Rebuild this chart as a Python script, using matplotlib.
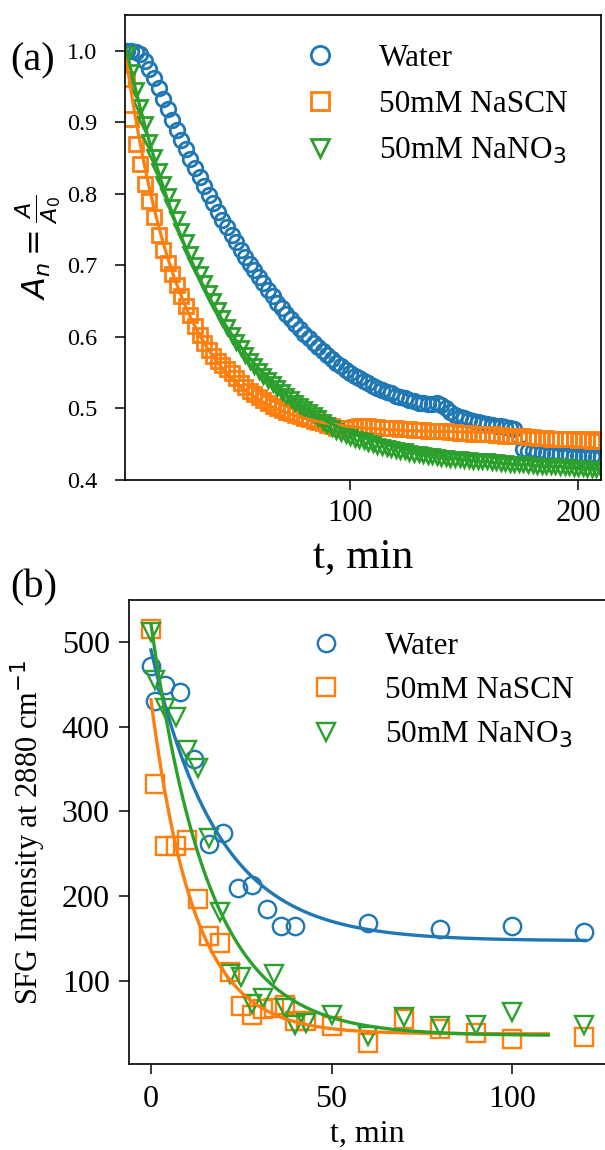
import numpy as np
import matplotlib
matplotlib.use("Agg")
import matplotlib.pyplot as plt

plt.rcParams["font.family"] = ["Liberation Serif", "DejaVu Sans"]
plt.rcParams["mathtext.fontset"] = "dejavusans"

C_WATER = "#1f77b4"
C_SCN = "#ff7f0e"
C_NO3 = "#2ca02c"

# --- (a) normalised absorbance, sampled every 2 min ---------------------------
t_a = [2, 4, 6, 8, 10, 12, 14, 16, 18, 20, 22, 24, 26, 28, 30, 32, 34, 36, 38, 40,
       42, 44, 46, 48, 50, 52, 54, 56, 58, 60, 62, 64, 66, 68, 70, 72, 74, 76, 78, 80,
       82, 84, 86, 88, 90, 92, 94, 96, 98, 100, 102, 104, 106, 108, 110, 112, 114, 116,
       118, 120, 122, 124, 126, 128, 130, 132, 134, 136, 138, 140, 142, 144, 146, 148,
       150, 152, 154, 156, 158, 160, 162, 164, 166, 168, 170, 172, 174, 176, 178, 180,
       182, 184, 186, 188, 190, 192, 194, 196, 198, 200, 202, 204, 206, 208, 210]

water_a = [1.000, 1.000, 0.998, 0.995, 0.986, 0.974, 0.962, 0.948, 0.933, 0.918,
           0.903, 0.889, 0.875, 0.862, 0.849, 0.836, 0.824, 0.811, 0.799, 0.787,
           0.775, 0.764, 0.753, 0.742, 0.732, 0.722, 0.712, 0.702, 0.693, 0.684,
           0.675, 0.666, 0.657, 0.648, 0.640, 0.632, 0.625, 0.618, 0.611, 0.604,
           0.598, 0.592, 0.586, 0.580, 0.575, 0.569, 0.564, 0.559, 0.554, 0.550,
           0.546, 0.542, 0.538, 0.535, 0.532, 0.529, 0.526, 0.523, 0.521, 0.518,
           0.516, 0.514, 0.512, 0.510, 0.508, 0.507, 0.506, 0.506, 0.507, 0.505,
           0.500, 0.495, 0.491, 0.488, 0.486, 0.484, 0.482, 0.481, 0.479, 0.478,
           0.477, 0.476, 0.475, 0.474, 0.473, 0.471, 0.460, 0.443, 0.441, 0.440,
           0.439, 0.438, 0.438, 0.437, 0.436, 0.436, 0.435, 0.435, 0.434, 0.434,
           0.433, 0.433, 0.433, 0.432, 0.432]

scn_a = [0.960, 0.905, 0.870, 0.842, 0.814, 0.790, 0.767, 0.742, 0.722, 0.703,
         0.688, 0.672, 0.657, 0.643, 0.630, 0.615, 0.603, 0.592, 0.582, 0.574,
         0.567, 0.561, 0.555, 0.549, 0.543, 0.536, 0.530, 0.525, 0.520, 0.516,
         0.512, 0.508, 0.504, 0.501, 0.498, 0.495, 0.493, 0.491, 0.489, 0.487,
         0.485, 0.483, 0.481, 0.479, 0.477, 0.475, 0.473, 0.472, 0.472, 0.473,
         0.474, 0.475, 0.475, 0.475, 0.474, 0.474, 0.473, 0.473, 0.472, 0.472,
         0.471, 0.471, 0.471, 0.470, 0.470, 0.470, 0.469, 0.469, 0.468, 0.468,
         0.468, 0.467, 0.467, 0.466, 0.466, 0.466, 0.465, 0.465, 0.464, 0.464,
         0.464, 0.463, 0.463, 0.462, 0.462, 0.462, 0.461, 0.461, 0.460, 0.460,
         0.459, 0.459, 0.459, 0.458, 0.458, 0.458, 0.457, 0.457, 0.457, 0.456,
         0.456, 0.456, 0.455, 0.455, 0.455]

no3_a = [0.995, 0.970, 0.945, 0.922, 0.898, 0.873, 0.852, 0.832, 0.814, 0.797,
         0.781, 0.765, 0.748, 0.732, 0.716, 0.701, 0.688, 0.675, 0.662, 0.650,
         0.638, 0.626, 0.614, 0.603, 0.593, 0.584, 0.575, 0.567, 0.560, 0.553,
         0.546, 0.540, 0.534, 0.528, 0.523, 0.518, 0.513, 0.508, 0.503, 0.499,
         0.495, 0.491, 0.486, 0.481, 0.477, 0.473, 0.469, 0.466, 0.463, 0.460,
         0.458, 0.456, 0.454, 0.452, 0.450, 0.448, 0.446, 0.445, 0.443, 0.442,
         0.441, 0.440, 0.438, 0.437, 0.436, 0.435, 0.434, 0.433, 0.432, 0.431,
         0.431, 0.430, 0.429, 0.429, 0.428, 0.428, 0.427, 0.427, 0.426, 0.426,
         0.425, 0.425, 0.424, 0.424, 0.423, 0.423, 0.422, 0.422, 0.421, 0.421,
         0.420, 0.420, 0.420, 0.419, 0.419, 0.418, 0.418, 0.418, 0.417, 0.417,
         0.417, 0.416, 0.416, 0.416, 0.415]

# single-exponential fits y = c + a*exp(-(t - t0)/tau)
fit_a_scn = dict(c=0.466, a=0.534, tau=24.0, t0=1.3)
fit_a_no3 = dict(c=0.413, a=0.587, tau=41.0, t0=2.0)

# --- (b) SFG intensity at 2880 cm-1 -------------------------------------------
water_t = [0, 1, 4, 8, 12, 16, 20, 24, 28, 32, 36, 40, 60, 80, 100, 120]
water_I = [472, 430, 449, 441, 362, 262, 274, 210, 213, 185, 164, 164, 168, 161, 165, 158]

salt_t = [0, 1, 4, 7, 10, 13, 16, 19, 22, 25, 28, 31, 34, 37, 40, 43, 50, 60, 70, 80, 90, 100, 120]
scn_I = [516, 332, 259, 259, 266, 196, 153, 144, 110, 70, 59, 66, 67, 71, 52, 52,
         46, 26, 55, 43, 38, 31, 33]
no3_I = [512, 455, 422, 412, 373, 351, 268, 181, 108, 104, 72, 79, 108, 68, 48, 50,
         59, 35, 57, 46, 48, 63, 48]

fit_b_water = dict(c=147.0, a=344.0, tau=18.5, t0=0.0, t_end=120.3)
fit_b_scn = dict(c=37.0, a=395.0, tau=12.0, t0=0.0, t_end=110.0)
fit_b_no3 = dict(c=35.0, a=487.0, tau=16.0, t0=0.0, t_end=110.0)

LABELS = ["Water", "50mM NaSCN", "50mM NaNO$_3$"]


def expfit(t, c, a, tau, t0, **_):
    return c + a * np.exp(-(t - t0) / tau)


W, H = 605, 1150
fig = plt.figure(figsize=(W / 100, H / 100), dpi=100)
ax_a = fig.add_axes([125 / W, 1 - 480 / H, 476 / W, 465 / H])
ax_b = fig.add_axes([129.3 / W, 1 - 1064.3 / H, 476.7 / W, 464.3 / H])

# ---- panel (a) ----
mk_a = dict(linestyle="none", mfc="none", ms=10.5, mew=2.0)
h1, = ax_a.plot(t_a, water_a, "o", mec=C_WATER, **mk_a)
h2, = ax_a.plot(t_a, scn_a, "s", mec=C_SCN, **mk_a)
h3, = ax_a.plot(t_a, no3_a, "v", mec=C_NO3, **mk_a)
tt = np.linspace(fit_a_scn["t0"], 210, 300)
ax_a.plot(tt, expfit(tt, **fit_a_scn), color=C_SCN, lw=2.3)
tt = np.linspace(fit_a_no3["t0"], 210, 300)
ax_a.plot(tt, expfit(tt, **fit_a_no3), color=C_NO3, lw=2.3)

ax_a.set_xlim(1.3, 210)
ax_a.set_ylim(0.4, 1.05)
ax_a.set_xticks([100, 200])
ax_a.set_yticks([0.4, 0.5, 0.6, 0.7, 0.8, 0.9, 1.0])
ax_a.tick_params(axis="y", labelsize=17.5, pad=13, length=7, width=1.1)
ax_a.tick_params(axis="x", labelsize=22, pad=7, length=7, width=1.1)
ax_a.set_xlabel("t, min", fontsize=31, va="baseline")
ax_a.set_ylabel(r"$A_n = \frac{A}{A_0}$", fontsize=23)
ax_a.xaxis.set_label_coords(0.5, -0.187)
ax_a.yaxis.set_label_coords(-0.13, 0.5)
ax_a.legend([h1, h2, h3], LABELS, loc="upper left", bbox_to_anchor=(0.344, 0.938),
            frameon=False, fontsize=22.5, markerscale=1.25, handletextpad=0.9,
            labelspacing=0.55, borderaxespad=0, borderpad=0, handlelength=2)

# ---- panel (b) ----
mk_b = dict(linestyle="none", mfc="none", ms=12.5, mew=1.7)
g1, = ax_b.plot(water_t, water_I, "o", mec=C_WATER, **mk_b)
g2, = ax_b.plot(salt_t, scn_I, "s", mec=C_SCN, **mk_b)
g3, = ax_b.plot(salt_t, no3_I, "v", mec=C_NO3, **mk_b)
for p, col in [(fit_b_water, C_WATER), (fit_b_scn, C_SCN), (fit_b_no3, C_NO3)]:
    tt = np.linspace(p["t0"], p["t_end"], 300)
    ax_b.plot(tt, expfit(tt, **p), color=col, lw=2.4)

ax_b.set_xlim(-6, 126)
ax_b.set_ylim(1, 550)
ax_b.set_xticks([0, 50, 100])
ax_b.set_yticks([100, 200, 300, 400, 500])
ax_b.tick_params(axis="y", labelsize=23, pad=7, length=7, width=1.1)
ax_b.tick_params(axis="x", labelsize=23, pad=8, length=7, width=1.1)
ax_b.set_xlabel("t, min", fontsize=23, va="baseline")
ax_b.set_ylabel("SFG Intensity at 2880 cm$^{-1}$", fontsize=22)
ax_b.xaxis.set_label_coords(0.5, -0.166)
ax_b.yaxis.set_label_coords(-0.171, 0.5)
ax_b.legend([g1, g2, g3], LABELS, loc="upper left", bbox_to_anchor=(0.347, 0.931),
            frameon=False, fontsize=22.5, markerscale=1.0, handletextpad=0.9,
            labelspacing=0.48, borderaxespad=0, borderpad=0, handlelength=2)

for ax in (ax_a, ax_b):
    for s in ax.spines.values():
        s.set_linewidth(1.2)

fig.text(10 / W, 1 - 61 / H, "(a)", fontsize=29, ha="left", va="center")
fig.text(10 / W, 1 - 588 / H, "(b)", fontsize=29, ha="left", va="center")

fig.savefig("out.png", dpi=100)
